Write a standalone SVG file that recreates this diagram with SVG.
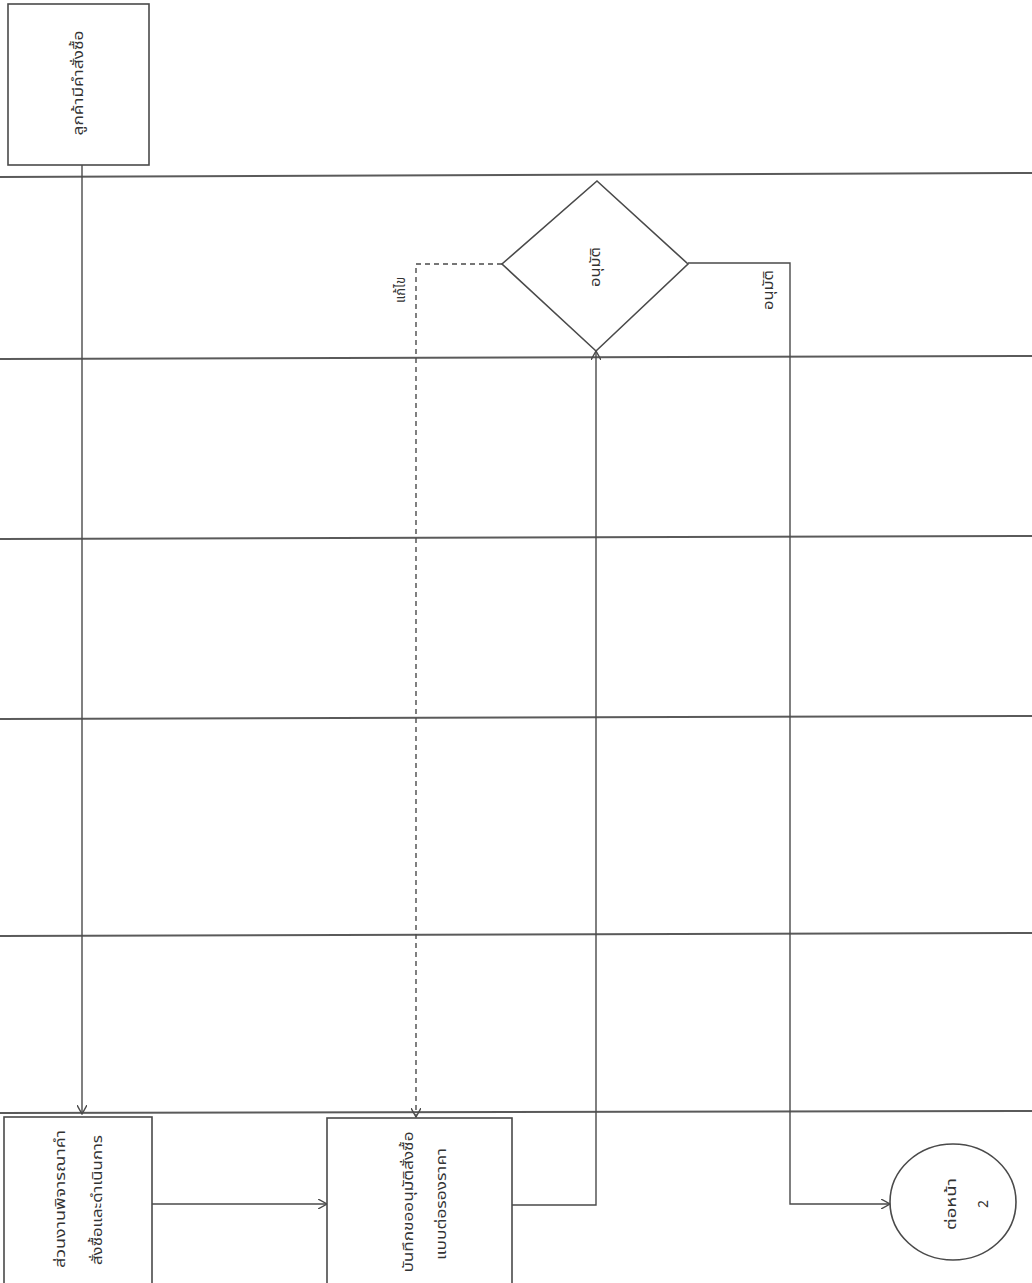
<svg xmlns="http://www.w3.org/2000/svg" width="1032" height="1283" viewBox="0 0 1032 1283">
<style>
.lane{stroke:#5a5a5a;stroke-width:2;fill:none}
.shape{stroke:#4a4a4a;stroke-width:1.6;fill:#fff}
.conn{stroke:#4a4a4a;stroke-width:1.4;fill:none}
.dash{stroke-dasharray:5,4}
.t{font-family:"Noto Sans","Noto Sans Thai","Liberation Sans",sans-serif;font-size:14px;fill:#333;text-anchor:middle}
</style>
<defs>
<marker id="arr" viewBox="0 0 10 10" refX="9" refY="5" markerWidth="10" markerHeight="10" markerUnits="userSpaceOnUse" orient="auto">
<path d="M0,0 L9,5 L0,10" fill="none" stroke="#4a4a4a" stroke-width="1.4"/>
</marker>
</defs>
<rect width="1032" height="1283" fill="#fff"/>
<g id="lanes">
<line class="lane" x1="0" y1="177" x2="1032" y2="173"/>
<line class="lane" x1="0" y1="359" x2="1032" y2="356"/>
<line class="lane" x1="0" y1="539" x2="1032" y2="536"/>
<line class="lane" x1="0" y1="719" x2="1032" y2="716"/>
<line class="lane" x1="0" y1="936" x2="1032" y2="933"/>
<line class="lane" x1="0" y1="1113" x2="1032" y2="1111"/>
</g>
<g id="connectors">
<path class="conn" d="M82,165 L82,1114" marker-end="url(#arr)"/>
<path class="conn" d="M152,1204 L327,1204" marker-end="url(#arr)"/>
<path class="conn" d="M512,1205 L596,1205 L596,351" marker-end="url(#arr)"/>
<path class="conn dash" d="M502,264 L416,264 L416,1117" marker-end="url(#arr)"/>
<path class="conn" d="M688,263 L790,263 L790,1204 L890,1204" marker-end="url(#arr)"/>
<text class="t" transform="translate(400,290) rotate(-90)" y="5" textLength="26" lengthAdjust="spacingAndGlyphs">แก้ไข</text>
<text class="t" transform="translate(768,290) rotate(-90)" y="5" textLength="40" lengthAdjust="spacingAndGlyphs">อนุมัติ</text>
</g>
<g id="node-customer">
<rect class="shape" x="8" y="4" width="141" height="161"/>
<text class="t" transform="translate(78,83) rotate(-90)" y="5" textLength="105" lengthAdjust="spacingAndGlyphs">ลูกค้ามีคำสั่งซื้อ</text>
</g>
<g id="node-review">
<rect class="shape" x="4" y="1117" width="148" height="170"/>
<text class="t" transform="translate(60,1199) rotate(-90)" y="5" textLength="138" lengthAdjust="spacingAndGlyphs">ส่วนงานพิจารณาคำ</text>
<text class="t" transform="translate(97,1200) rotate(-90)" y="5" textLength="130" lengthAdjust="spacingAndGlyphs">สั่งซื้อและดำเนินการ</text>
</g>
<g id="node-record">
<rect class="shape" x="327" y="1118" width="185" height="170"/>
<text class="t" transform="translate(408,1202) rotate(-90)" y="5" textLength="141" lengthAdjust="spacingAndGlyphs">บันทึกขออนุมัติสั่งซื้อ</text>
<text class="t" transform="translate(441,1204) rotate(-90)" y="5" textLength="112" lengthAdjust="spacingAndGlyphs">แบบต่อรองราคา</text>
</g>
<g id="node-approve">
<polygon class="shape" points="597,181 688,264 596,351 502,264"/>
<text class="t" transform="translate(595,267) rotate(-90)" y="5" textLength="40" lengthAdjust="spacingAndGlyphs">อนุมัติ</text>
</g>
<g id="node-next">
<ellipse class="shape" cx="953" cy="1202" rx="63" ry="58"/>
<text class="t" transform="translate(951,1204) rotate(-90)" y="5" textLength="52" lengthAdjust="spacingAndGlyphs">ต่อหน้า</text>
<text class="t" transform="translate(983,1204) rotate(-90)" y="5">2</text>
</g>
</svg>
